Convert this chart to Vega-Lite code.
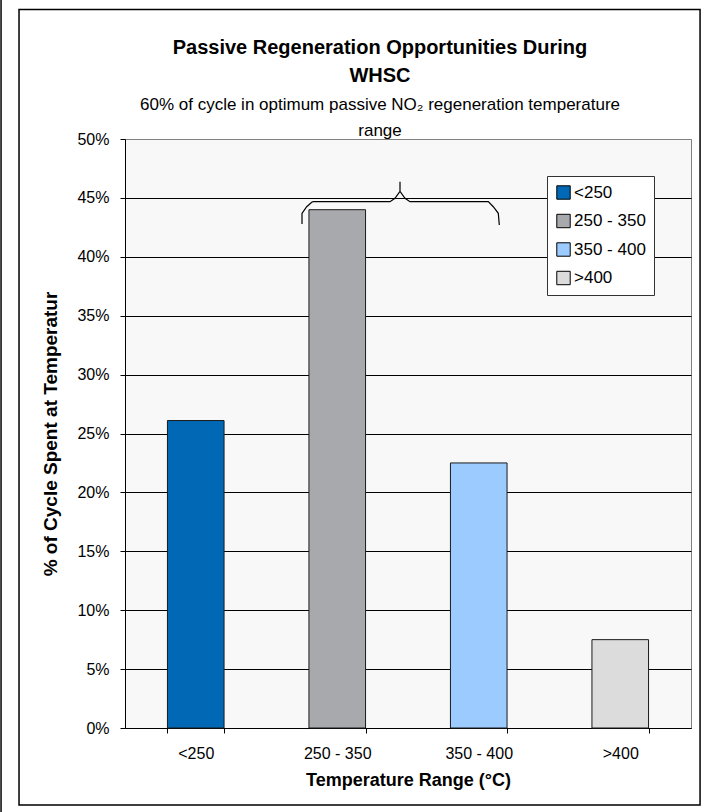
{
  "$schema": "https://vega.github.io/schema/vega-lite/v6.json",
  "width": 566,
  "height": 589,
  "autosize": {"type": "none"},
  "padding": {"left": 125, "top": 139, "right": 16, "bottom": 84},
  "background": "white",
  "config": {
    "font": "Liberation Sans",
    "view": {"fill": "#f8f8f8", "stroke": "#808080", "strokeWidth": 1}
  },
  "title": {
    "text": ["Passive Regeneration Opportunities During", "WHSC"],
    "subtitle": ["60% of cycle in optimum passive NO₂ regeneration temperature", "range"],
    "font": "Liberation Sans",
    "fontSize": 20,
    "fontWeight": "bold",
    "lineHeight": 28,
    "color": "black",
    "subtitleFont": "Liberation Sans",
    "subtitleFontSize": 17,
    "subtitleLineHeight": 26,
    "subtitleColor": "black",
    "subtitlePadding": 11,
    "offset": -140,
    "anchor": "middle",
    "frame": "group",
    "dx": -28
  },
  "datasets": {
    "bars": [
      {"range": "<250", "pct": 0.261},
      {"range": "250 - 350", "pct": 0.44},
      {"range": "350 - 400", "pct": 0.225},
      {"range": ">400", "pct": 0.075}
    ],
    "brace": [
      {"o": 1, "bx": 1.2509, "by": 0.4278},
      {"o": 2, "bx": 1.2509, "by": 0.4369},
      {"o": 3, "bx": 1.2841, "by": 0.4425},
      {"o": 4, "bx": 1.3194, "by": 0.4463},
      {"o": 5, "bx": 1.3307, "by": 0.4468},
      {"o": 6, "bx": 1.8728, "by": 0.4468},
      {"o": 7, "bx": 1.9081, "by": 0.4497},
      {"o": 8, "bx": 1.9435, "by": 0.4555},
      {"o": 9, "bx": 1.9435, "by": 0.4638},
      {"o": 10, "bx": 1.9435, "by": 0.4555},
      {"o": 11, "bx": 1.9788, "by": 0.4497},
      {"o": 12, "bx": 2.0141, "by": 0.4468},
      {"o": 13, "bx": 2.5675, "by": 0.4468},
      {"o": 14, "bx": 2.6028, "by": 0.4425},
      {"o": 15, "bx": 2.6382, "by": 0.4369},
      {"o": 16, "bx": 2.6452, "by": 0.4270}
    ],
    "frame": [
      {"fx": -0.749, "fx2": 4.064, "fy": -0.0654, "fy2": 0.6099}
    ],
    "edge": [
      {"ex": -0.876, "ey": -0.0713, "ey2": 0.618}
    ]
  },
  "layer": [
    {
      "data": {"name": "bars"},
      "mark": {"type": "bar", "stroke": "#1a1a1a", "strokeWidth": 1},
      "encoding": {
        "x": {
          "field": "range",
          "type": "nominal",
          "sort": null,
          "title": "Temperature Range (°C)",
          "scale": {"paddingInner": 0.6, "paddingOuter": 0.3},
          "axis": {
            "labelAngle": 0,
            "labelFontSize": 16,
            "labelColor": "black",
            "labelPadding": 12,
            "tickBand": "extent",
            "tickColor": "black",
            "tickSize": 5,
            "domainColor": "black",
            "titleFontSize": 18,
            "titleFontWeight": "bold",
            "titleColor": "black",
            "titlePadding": 10
          }
        },
        "y": {
          "field": "pct",
          "type": "quantitative",
          "title": "% of Cycle Spent at Temperatur",
          "scale": {"domain": [0, 0.5], "nice": false},
          "axis": {
            "values": [0, 0.05, 0.1, 0.15, 0.2, 0.25, 0.3, 0.35, 0.4, 0.45, 0.5],
            "format": ".0%",
            "labelFontSize": 16,
            "labelColor": "black",
            "labelPadding": 11,
            "tickColor": "black",
            "tickSize": 5,
            "domainColor": "black",
            "grid": true,
            "gridColor": {"condition": {"test": "datum.value >= 0.5", "value": "#808080"}, "value": "black"},
            "gridOpacity": 1,
            "gridWidth": 1,
            "titleFontSize": 19,
            "titleFontWeight": "bold",
            "titleColor": "black",
            "titlePadding": 16
          }
        },
        "color": {
          "field": "range",
          "type": "nominal",
          "sort": null,
          "scale": {
            "domain": ["<250", "250 - 350", "350 - 400", ">400"],
            "range": ["#0068b4", "#a8a9ad", "#9ccbff", "#dcdcdc"]
          },
          "legend": {
            "title": null,
            "orient": "none",
            "legendX": 422,
            "legendY": 37,
            "fillColor": "white",
            "strokeColor": "#333333",
            "padding": 8,
            "symbolType": "square",
            "symbolSize": 180,
            "symbolStrokeColor": "black",
            "symbolStrokeWidth": 1,
            "symbolOpacity": 1,
            "labelFontSize": 17,
            "labelColor": "black",
            "labelOffset": 2,
            "rowPadding": 9.5
          }
        }
      }
    },
    {
      "data": {"name": "brace"},
      "mark": {"type": "line", "stroke": "black", "strokeWidth": 1.2},
      "encoding": {
        "x": {"field": "bx", "type": "quantitative", "scale": {"domain": [0, 4], "nice": false, "zero": false}, "axis": null},
        "y": {"field": "by", "type": "quantitative", "title": "% of Cycle Spent at Temperatur", "scale": {"domain": [0, 0.5], "nice": false}},
        "order": {"field": "o", "type": "quantitative"}
      }
    },
    {
      "data": {"name": "frame"},
      "mark": {"type": "rect", "fill": "transparent", "stroke": "black", "strokeWidth": 1.5},
      "encoding": {
        "x": {"field": "fx", "type": "quantitative", "scale": {"domain": [0, 4], "nice": false, "zero": false}, "axis": null},
        "x2": {"field": "fx2"},
        "y": {"field": "fy", "type": "quantitative", "title": "% of Cycle Spent at Temperatur", "scale": {"domain": [0, 0.5], "nice": false}},
        "y2": {"field": "fy2"}
      }
    },
    {
      "data": {"name": "edge"},
      "mark": {"type": "rule", "stroke": "black", "strokeWidth": 1.5},
      "encoding": {
        "x": {"field": "ex", "type": "quantitative", "scale": {"domain": [0, 4], "nice": false, "zero": false}, "axis": null},
        "y": {"field": "ey", "type": "quantitative", "title": "% of Cycle Spent at Temperatur", "scale": {"domain": [0, 0.5], "nice": false}},
        "y2": {"field": "ey2"}
      }
    }
  ],
  "resolve": {"scale": {"x": "independent"}}
}
